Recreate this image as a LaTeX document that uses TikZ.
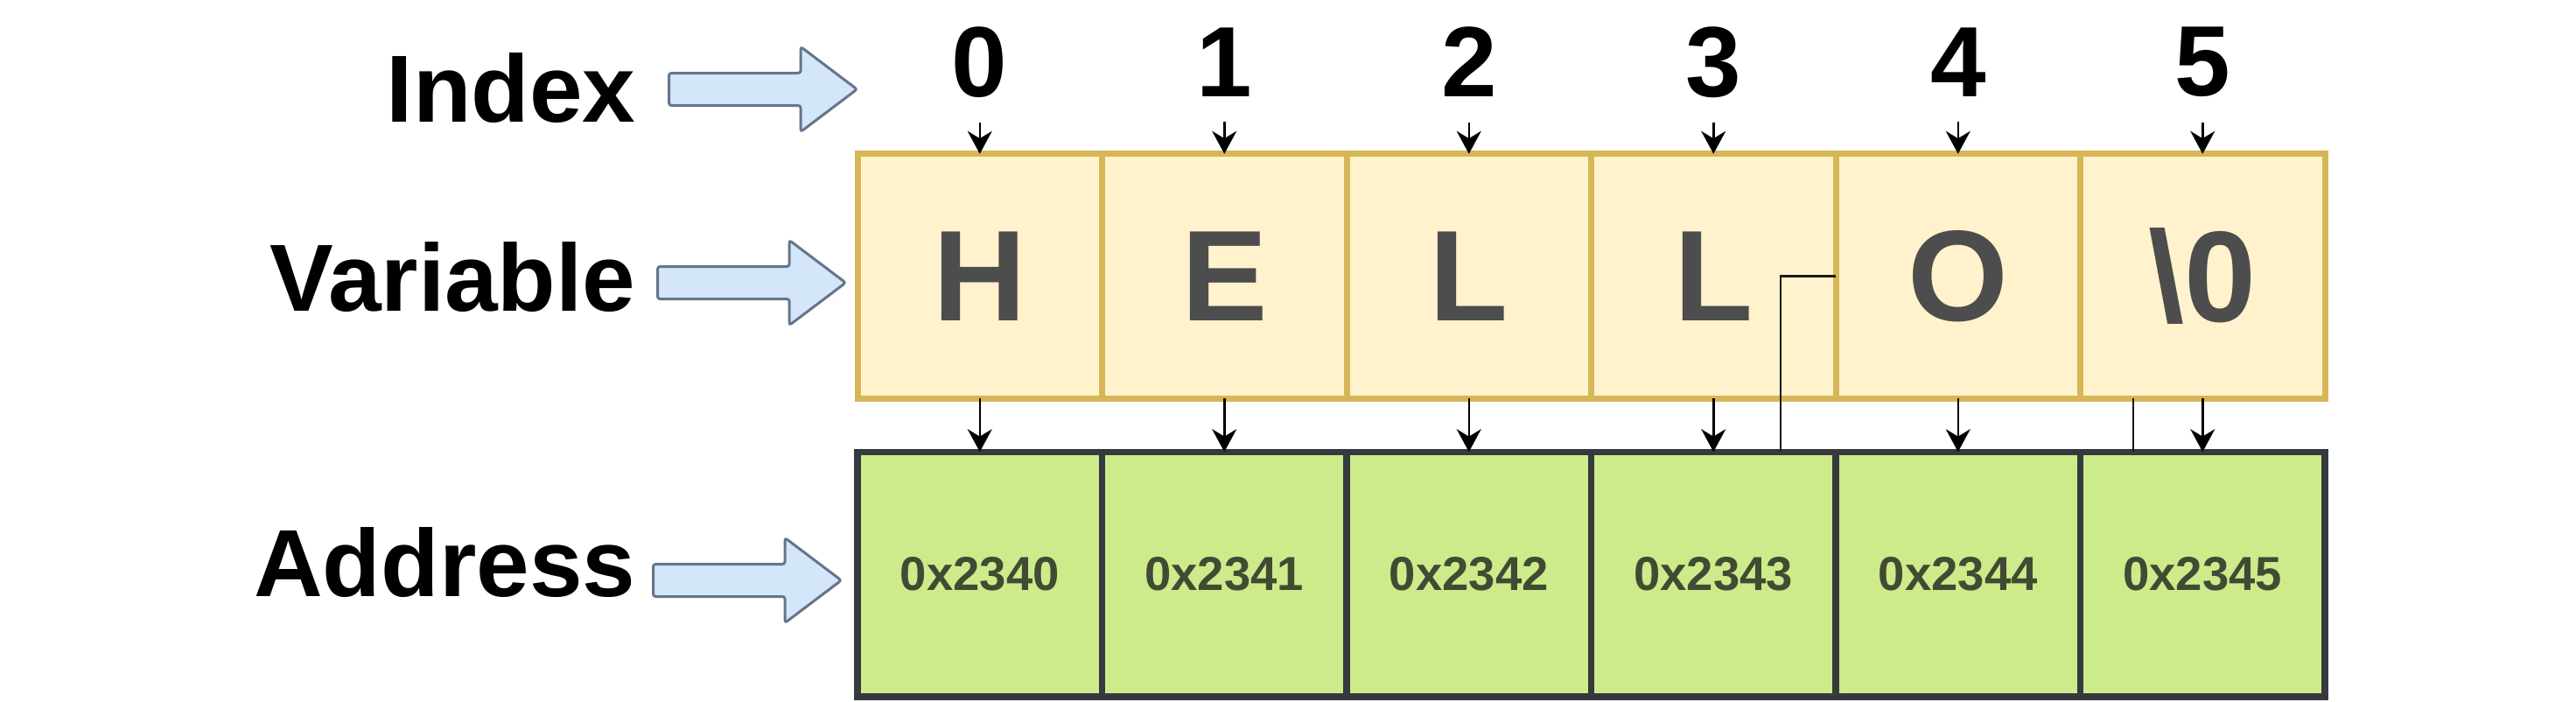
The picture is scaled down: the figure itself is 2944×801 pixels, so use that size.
\documentclass[tikz,border=0pt]{standalone}
\usepackage{fontspec}
\setmainfont{Liberation Sans}
\usepackage{xcolor}
\usepackage{tikz}
\usetikzlibrary{positioning,calc,shapes.arrows,arrows.meta}

\definecolor{varfill}{HTML}{FFF2CC}
\definecolor{varline}{HTML}{D6B656}
\definecolor{addrfill}{HTML}{CDEB8B}
\definecolor{addrline}{HTML}{36393D}
\definecolor{addrtext}{HTML}{414B33}
\definecolor{celltext}{HTML}{4D4D4D}
\definecolor{hintfill}{HTML}{D4E6FA}
\definecolor{hintline}{HTML}{66758A}

\tikzset{
  rowlabel/.style={anchor=east, inner sep=0pt, font=\fontsize{31}{36}\selectfont\bfseries},
  hint/.style={single arrow, draw=hintline, fill=hintfill, line width=0.3mm,
    rounded corners=0.3mm, minimum height=21.5mm, inner xsep=0pt, inner ysep=1.7mm,
    single arrow head extend=3mm, single arrow tip angle=74, anchor=tail},
  idxnum/.style={inner sep=2.8mm, font=\fontsize{32.5}{38}\selectfont\bfseries},
  varcell/.style={draw=varline, fill=varfill, line width=0.7mm, minimum size=27.95mm,
    inner sep=0pt, outer sep=0pt, text=celltext, font=\fontsize{42}{48}\selectfont\bfseries},
  addrcell/.style={draw=addrline, fill=addrfill, line width=0.75mm, minimum size=27.95mm,
    inner sep=0pt, outer sep=0pt, text=addrtext, font=\fontsize{15.5}{18}\selectfont\bfseries},
  ptr/.style={-{Stealth[length=2.6mm,width=2.8mm]}, line width=0.25mm},
  wire/.style={line width=0.25mm, draw=black!90}
}

\begin{document}
\begin{tikzpicture}[x=0.1mm, y=-0.1mm]
    \useasboundingbox (0,0) rectangle (2944,801);

    % row labels and their hint arrows
    \node[rowlabel] (idx) at (727,101) {Index};
    \node[rowlabel] (var) at (727,317) {Variable};
    \node[rowlabel] (addr) at (727,643) {Address};
    \node[hint] (idxarr) at (763,102) {};
    \node[hint] (vararr) at (750,323) {};
    \node[hint] (addrarr) at (745,663) {};

    % cells
    \foreach \ch [count=\i from 0] in {H,E,L,L,O,{\textbackslash 0}} {
        \node[varcell] (v\i) at ({1119.75+279.5*\i},315.5) {\ch};
        \node[addrcell, below=6.1mm of v\i] (g\i) {0x234\i};
        \node[idxnum] (n\i) at ({1119.75+279.5*\i},71) {\i};
        \draw[ptr] (n\i) -- (v\i);
        \draw[ptr] (v\i) -- (g\i);
    }

    % stray connectors
    \coordinate (bend) at (2035,316);
    \coordinate (stub) at (2438,0);
    \draw[wire] (g3.north -| bend) |- (v4.west);
    \draw[wire] (stub |- v5.south) -- (stub |- g5.north);
\end{tikzpicture}
\end{document}
